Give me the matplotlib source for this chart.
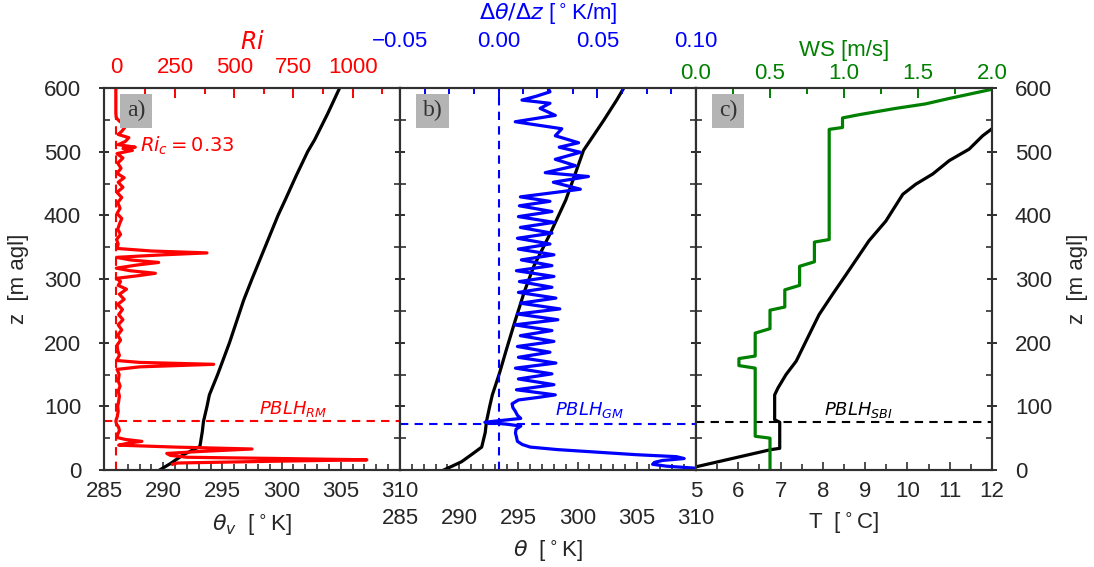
import matplotlib.pyplot as plt
from matplotlib.ticker import MultipleLocator

plt.rcParams['font.family'] = ['Liberation Sans', 'DejaVu Sans']
plt.rcParams['mathtext.fontset'] = 'dejavusans'

RED = '#ff0000'
BLUE = '#0000ff'
GREEN = '#008000'
AXC = '#303030'
TXT = '#262626'

# (a) virtual potential temperature and bulk Richardson number
z_thv = [0, 10, 24, 37, 60, 76, 100, 118, 150, 200, 267, 300, 350, 400,
         424, 461, 500, 519, 560, 600]
thv = [289.7, 290.6, 291.7, 293.1, 293.3, 293.4, 293.7, 293.9, 294.6, 295.6,
       296.8, 297.5, 298.6, 299.7, 300.3, 301.2, 302.2, 302.8, 303.9, 304.9]

z_ri = [9, 11, 14, 16, 18, 20, 23, 26, 29, 33, 36, 39, 42, 45, 48, 51, 56,
        62, 67, 72, 77, 84, 92, 100, 108, 116, 124, 132, 140, 150, 158, 162,
        166, 169, 172, 180, 188, 196, 204, 212, 220, 228, 236, 244, 252, 260,
        268, 276, 284, 290, 296, 301, 305, 309, 313, 317, 322, 326, 330, 334,
        338, 341, 344, 348, 355, 362, 370, 378, 386, 395, 403, 411, 420, 428,
        436, 444, 452, 459, 466, 474, 482, 490, 497, 502, 505, 507, 511, 516,
        522, 527, 532, 540, 548, 553, 560, 580, 600]
ri = [240, 260, 700, 1060, 700, 300, 230, 215, 350, 575, 250, 12, 50, 110,
      40, 5, 8, 15, 12, 3, 0, 6, 10, 8, 12, 15, 10, 18, 10, 14, 5, 100, 413,
      100, 3, 15, 8, 5, 20, 8, 25, 10, 30, 12, 28, 8, 35, 15, 45, 10, 20, 2,
      90, 167, 60, 2, 90, 181, 60, 3, 200, 385, 150, 5, 10, 3, 20, 8, 15, 25,
      5, 18, 8, 25, 5, 30, 10, 35, 5, 22, 8, 30, 5, 70, 30, 82, 10, 40, 55,
      10, 25, 42, 15, 2, 0, 0, 0]
ri_crit = 0.33
pblh_rm = 77

# (b) potential temperature and its vertical gradient
z_th = [0, 6, 13, 25, 36, 59, 76, 102, 118, 152, 190, 233, 280, 320, 372,
        424, 460, 502, 549, 581, 600]
th = [288.7, 289.4, 290.2, 291.1, 291.9, 292.2, 292.3, 292.6, 292.8, 293.4,
      294.0, 294.7, 295.5, 296.3, 297.7, 299.0, 299.7, 300.5, 302.2, 303.3,
      303.9]

z_grad = [0, 3, 6, 9, 12, 15, 18, 21, 24, 28, 32, 36, 40, 45, 52, 58, 64,
          69, 72, 75, 78, 81, 86, 92, 98, 104, 110, 114, 118,
          126, 134, 143, 151, 160, 168, 177, 185, 194, 202, 211, 219, 228,
          236, 245, 253, 262, 270, 279, 287, 296, 304, 313, 321, 330, 338,
          347, 355, 364, 372, 381, 389, 398, 406, 415, 422,
          429, 441, 452, 461, 467, 478, 488, 499, 507, 514, 525, 536, 547,
          557, 568, 576, 581, 587, 594, 600]
grad = [0.0995, 0.0990, 0.085, 0.078, 0.079, 0.083, 0.094, 0.090, 0.070,
        0.050, 0.030, 0.016, 0.012, 0.0095, 0.009, 0.0085, 0.0088, 0.0112,
        0.004, -0.007, 0.002, 0.0112, 0.0095, 0.0085, 0.0072, 0.0068, 0.010,
        0.020, 0.0287,
        0.009, 0.028, 0.010, 0.027, 0.0085, 0.029, 0.010, 0.026, 0.0095,
        0.028, 0.011, 0.027, 0.008, 0.030, 0.0095, 0.031, 0.011, 0.029,
        0.0100, 0.027, 0.0105, 0.028, 0.0090, 0.027, 0.0115, 0.028, 0.0100,
        0.026, 0.0095, 0.027, 0.0110, 0.028, 0.0100, 0.027, 0.0105, 0.026,
        0.011, 0.0414, 0.0277, 0.0455, 0.0236, 0.0389, 0.0287, 0.0414,
        0.0307, 0.0405, 0.0287, 0.032, 0.0084, 0.0287, 0.021, 0.026, 0.0118,
        0.019, 0.026, 0.025]
pblh_gm = 73

# (c) temperature and wind speed
z_t = [5, 32, 34, 75, 79, 118, 129, 150, 171, 213, 244, 276, 307, 360, 391,
       433, 449, 465, 486, 504, 525, 535, 541]
temp = [5.0, 6.77, 6.98, 6.98, 6.86, 6.86, 6.94, 7.13, 7.37, 7.68, 7.91,
        8.23, 8.55, 9.09, 9.49, 9.89, 10.2, 10.6, 10.99, 11.46, 11.78, 11.98,
        12.1]

z_ws = [0, 50, 53, 160, 164, 175, 179, 215, 222, 251, 256, 283, 290, 320,
        327, 358, 362, 535, 538, 553, 558, 568, 575, 583, 588, 598]
ws = [0.50, 0.50, 0.40, 0.40, 0.29, 0.29, 0.40, 0.40, 0.50, 0.50, 0.60,
      0.60, 0.70, 0.70, 0.80, 0.80, 0.90, 0.90, 0.99, 0.99, 1.10, 1.35,
      1.55, 1.70, 1.80, 2.00]
pblh_sbi = 76

fig = plt.figure(figsize=(10.94, 5.67), dpi=100)
W, H = 1094, 567
x0, pw, ybot, ph = 104, 296, 470, 382
FS = 16


def make_axes(i):
    return fig.add_axes([(x0 + i * pw) / W, 1 - ybot / H, pw / W, ph / H])


def style_y(ax):
    ax.set_ylim(0, 600)
    ax.yaxis.set_major_locator(MultipleLocator(100))
    ax.yaxis.set_minor_locator(MultipleLocator(50))
    ax.tick_params(axis='y', which='major', direction='inout', length=7,
                   width=1.4, color=AXC, left=True, right=True,
                   labelsize=FS, labelcolor=TXT, pad=13)
    ax.tick_params(axis='y', which='minor', direction='in', length=4,
                   width=1.2, color=AXC, left=True, right=True)
    for s in ax.spines.values():
        s.set_color(AXC)
        s.set_linewidth(1.5)


def style_bottom(ax, lim, major, minor, pad):
    ax.set_xlim(*lim)
    ax.xaxis.set_major_locator(MultipleLocator(major))
    ax.xaxis.set_minor_locator(MultipleLocator(minor))
    ax.tick_params(axis='x', which='both', direction='in', color=AXC,
                   width=1.2, labelsize=FS, labelcolor=TXT, pad=pad)
    ax.tick_params(axis='x', which='major', length=6)
    ax.tick_params(axis='x', which='minor', length=4)


def style_top(ax, lim, major, minor, pad, color):
    ax.set_xlim(*lim)
    ax.xaxis.set_major_locator(MultipleLocator(major))
    ax.xaxis.set_minor_locator(MultipleLocator(minor))
    ax.tick_params(axis='x', which='both', direction='in', color=color,
                   width=1.4, labelsize=FS, labelcolor=color, pad=pad)
    ax.tick_params(axis='x', which='major', length=7)
    ax.tick_params(axis='x', which='minor', length=4)
    for s in ax.spines.values():
        s.set_color(AXC)
        s.set_linewidth(1.5)


def panel_tag(ax, tag):
    ax.text(0.078, 0.968, tag, transform=ax.transAxes, ha='left', va='top',
            family='Liberation Serif', fontsize=17, color='#333333',
            bbox=dict(boxstyle='square,pad=0.28', fc='#b4b4b4', ec='none'),
            zorder=10)


# ---- panel a ----
ax_a = make_axes(0)
ax_a.plot(thv, z_thv, color='black', lw=2.3)
style_y(ax_a)
style_bottom(ax_a, (285, 310), 5, 1, 8)
ax_a.set_ylabel('z  [m agl]', fontsize=FS, color=TXT)
ax_a.yaxis.set_label_coords(-0.255, 0.5)
ax_a.set_xlabel(r'$\theta_v$  [$^\circ$K]', fontsize=FS, color=TXT)
ax_a.xaxis.set_label_coords(0.5, -0.11)

ax_at = ax_a.twiny()
ax_at.plot(ri, z_ri, color=RED, lw=2.3)
ax_at.axvline(ri_crit, color=RED, lw=1.5, ls='--', dashes=(4, 3))
ax_at.axhline(pblh_rm, color=RED, lw=1.5, ls='--', dashes=(4, 3))
style_top(ax_at, (-50, 1200), 250, 125, 7, RED)
ax_at.set_ylim(0, 600)
ax_at.set_xlabel('$Ri$', fontsize=17, color=RED)
ax_at.xaxis.set_label_coords(0.5, 1.102)
ax_at.text(103, 509, r'$Ri_c = 0.33$', color=RED, fontsize=14,
           ha='left', va='center')
ax_at.text(0.64, 0.16, r'$PBLH_{RM}$', transform=ax_at.transAxes,
           color=RED, fontsize=13, ha='center', va='center')
panel_tag(ax_at, 'a)')

# ---- panel b ----
ax_b = make_axes(1)
ax_b.plot(th, z_th, color='black', lw=2.3)
style_y(ax_b)
ax_b.tick_params(axis='y', labelleft=False)
style_bottom(ax_b, (285, 310), 5, 1, 27)
ax_b.set_xlabel(r'$\theta$  [$^\circ$K]', fontsize=FS, color=TXT)
ax_b.xaxis.set_label_coords(0.5, -0.178)

ax_bt = ax_b.twiny()
ax_bt.plot(grad, z_grad, color=BLUE, lw=2.3)
ax_bt.axvline(0.0, color=BLUE, lw=1.5, ls='--', dashes=(4, 3))
ax_bt.axhline(pblh_gm, color=BLUE, lw=1.5, ls='--', dashes=(4, 3))
style_top(ax_bt, (-0.05, 0.10), 0.05, 0.0125, 26, BLUE)
ax_bt.set_ylim(0, 600)
ax_bt.set_xlabel(r'$\Delta\theta/\Delta z$ [$^\circ$K/m]', fontsize=FS,
                 color=BLUE)
ax_bt.xaxis.set_label_coords(0.5, 1.178)
ax_bt.text(0.64, 0.157, r'$PBLH_{GM}$', transform=ax_bt.transAxes,
           color=BLUE, fontsize=13, ha='center', va='center')
panel_tag(ax_bt, 'b)')

# ---- panel c ----
ax_c = make_axes(2)
ax_c.plot(temp, z_t, color='black', lw=2.3)
ax_c.axhline(pblh_sbi, color='black', lw=1.5, ls='--', dashes=(4, 3))
style_y(ax_c)
ax_c.tick_params(axis='y', labelleft=False, labelright=True)
ax_c.yaxis.set_label_position('right')
ax_c.set_ylabel('z  [m agl]', fontsize=FS, color=TXT)
ax_c.yaxis.set_label_coords(1.253, 0.5)
style_bottom(ax_c, (5, 12), 1, 0.5, 8)
ax_c.set_xlabel(r'T  [$^\circ$C]', fontsize=FS, color=TXT)
ax_c.xaxis.set_label_coords(0.5, -0.105)
ax_c.text(0.547, 0.157, r'$PBLH_{SBI}$', transform=ax_c.transAxes,
          color='black', fontsize=13, ha='center', va='center')

ax_ct = ax_c.twiny()
ax_ct.plot(ws, z_ws, color=GREEN, lw=2.3)
style_top(ax_ct, (0, 2.0), 0.5, 0.25, 3, GREEN)
ax_ct.set_ylim(0, 600)
ax_ct.set_xlabel('WS [m/s]', fontsize=FS, color=GREEN)
ax_ct.xaxis.set_label_coords(0.5, 1.085)
panel_tag(ax_ct, 'c)')

fig.savefig('out.png', dpi=100)
